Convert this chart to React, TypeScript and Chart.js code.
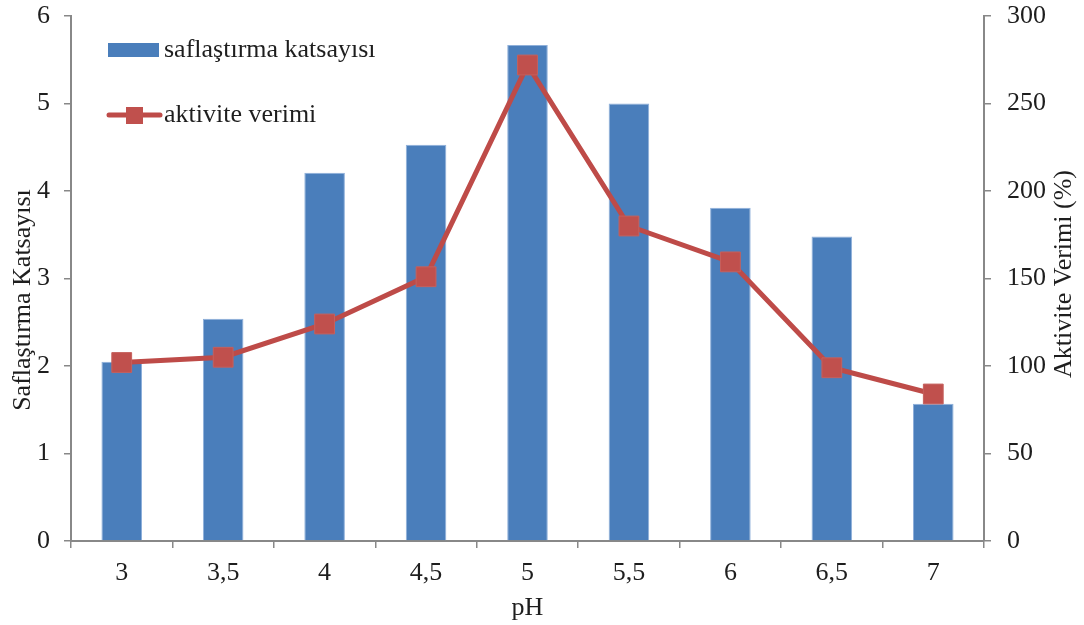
import React, { useEffect, useRef } from "react";
import { Chart, registerables } from "chart.js";

Chart.register(...registerables);

const phLabels = ["3", "3,5", "4", "4,5", "5", "5,5", "6", "6,5", "7"];
const saflastirmaKatsayisi = [2.05, 2.54, 4.21, 4.53, 5.67, 5.0, 3.81, 3.48, 1.57];
const aktiviteVerimi = [102, 105, 124, 151, 272, 180, 159.5, 99, 84];

const BAR_COLOR = "#4A7EBB";
const LINE_COLOR = "#BE4B48";
const AXIS_COLOR = "#888888";
const TEXT_COLOR = "#1e1e1e";
const FONT = "'Liberation Serif', 'Times New Roman', serif";

// Legend and the two axis titles are painted by hand so they sit where needed.
const annotations = {
  id: "annotations",
  afterDraw(chart: any) {
    const ctx = chart.ctx as CanvasRenderingContext2D;
    const area = chart.chartArea;
    ctx.save();
    ctx.textBaseline = "middle";

    // legend
    ctx.font = `26px ${FONT}`;
    ctx.fillStyle = BAR_COLOR;
    ctx.fillRect(108, 43, 51, 14);
    ctx.fillStyle = TEXT_COLOR;
    ctx.textAlign = "left";
    ctx.fillText(chart.data.datasets[0].label, 164, 50);

    ctx.strokeStyle = LINE_COLOR;
    ctx.lineWidth = 5;
    ctx.lineCap = "round";
    ctx.beginPath();
    ctx.moveTo(109, 115);
    ctx.lineTo(160, 115);
    ctx.stroke();
    ctx.fillStyle = "#C0504D";
    ctx.fillRect(126, 107, 17, 17);
    ctx.fillStyle = TEXT_COLOR;
    ctx.fillText(chart.data.datasets[1].label, 164, 115);

    // axis titles
    ctx.font = `26px ${FONT}`;
    ctx.textAlign = "center";
    ctx.save();
    ctx.translate(23, 300);
    ctx.rotate(-Math.PI / 2);
    ctx.fillText("Saflaştırma Katsayısı", 0, 0);
    ctx.restore();

    ctx.save();
    ctx.translate(1064, 274);
    ctx.rotate(-Math.PI / 2);
    ctx.fillText("Aktivite Verimi (%)", 0, 0);
    ctx.restore();

    ctx.fillText("pH", (area.left + area.right) / 2, 608);
    ctx.restore();
  },
};

export default function App() {
  const canvasRef = useRef<HTMLCanvasElement | null>(null);

  useEffect(() => {
    if (!canvasRef.current) return;
    const tickFont = { family: FONT, size: 26 };
    const tickGrid = {
      display: true,
      drawOnChartArea: false,
      drawTicks: true,
      tickLength: 7,
      color: AXIS_COLOR,
      lineWidth: 1.5,
    };
    const fixVertical = (width: number) => (s: any) => {
      s.width = width;
      s.paddingTop = 0;
      s.paddingBottom = 0;
    };
    const chart = new Chart(canvasRef.current, {
      type: "bar",
      data: {
        labels: phLabels,
        datasets: [
          {
            type: "bar",
            label: "saflaştırma katsayısı",
            data: saflastirmaKatsayisi,
            backgroundColor: BAR_COLOR,
            borderColor: "#8FB0DA",
            borderWidth: 1,
            barPercentage: 0.4,
            categoryPercentage: 1,
            yAxisID: "y",
            order: 2,
          },
          {
            type: "line",
            label: "aktivite verimi",
            data: aktiviteVerimi,
            borderColor: LINE_COLOR,
            borderWidth: 5,
            backgroundColor: "#C0504D",
            pointStyle: "rect",
            pointRadius: 14,
            pointBorderColor: "#C5605D",
            pointBorderWidth: 1,
            pointBackgroundColor: "#C0504D",
            tension: 0,
            yAxisID: "y1",
            order: 1,
          },
        ],
      },
      options: {
        responsive: false,
        animation: false,
        maintainAspectRatio: false,
        layout: { padding: { top: 16, left: 0, right: 0, bottom: 0 } },
        plugins: { legend: { display: false }, tooltip: { enabled: false } },
        scales: {
          x: {
            offset: true,
            grid: { ...tickGrid, offset: true },
            border: { color: AXIS_COLOR, width: 2 },
            ticks: { font: tickFont, color: TEXT_COLOR, padding: 10 },
            afterFit: (s: any) => {
              s.height = 84;
            },
          },
          y: {
            position: "left",
            min: 0,
            max: 6,
            ticks: { stepSize: 1, font: tickFont, color: TEXT_COLOR, padding: 14 },
            grid: tickGrid,
            border: { color: AXIS_COLOR, width: 2 },
            afterFit: fixVertical(71),
          },
          y1: {
            position: "right",
            min: 0,
            max: 300,
            ticks: { stepSize: 50, font: tickFont, color: TEXT_COLOR, padding: 16 },
            grid: tickGrid,
            border: { color: AXIS_COLOR, width: 2 },
            afterFit: fixVertical(100),
          },
        },
      },
      plugins: [annotations],
    });
    return () => chart.destroy();
  }, []);

  return (
    <div style={{ position: "fixed", left: 0, top: 0, width: 1084, height: 625, background: "#ffffff" }}>
      <canvas ref={canvasRef} width={1084} height={625} style={{ width: 1084, height: 625 }} />
    </div>
  );
}
